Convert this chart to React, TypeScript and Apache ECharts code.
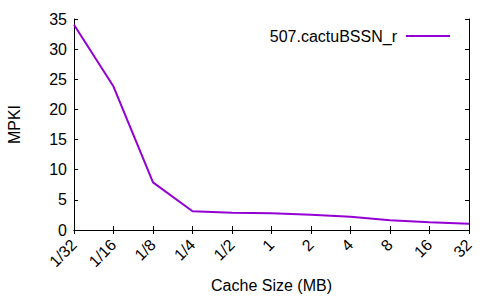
import React, { useEffect, useRef } from "react";
import * as echarts from "echarts";

const categories = ["1/32", "1/16", "1/8", "1/4", "1/2", "1", "2", "4", "8", "16", "32"];
const mpki = [34.05, 23.8, 7.9, 3.1, 2.85, 2.78, 2.55, 2.2, 1.6, 1.28, 1.05];
const seriesName = "507.cactuBSSN_r";
const yMin = 0;
const yMax = 35;
const yStep = 5;

const FONT = "'Liberation Sans', Arial, sans-serif";
const COLOR = "#9400D3";

export default function App() {
  const ref = useRef<HTMLDivElement>(null);
  useEffect(() => {
    if (!ref.current) return;
    const chart = echarts.init(ref.current, undefined, { renderer: "svg" });
    const axisLine = { show: true, lineStyle: { color: "#000", width: 1 } };
    const tick = { show: true, inside: true, length: 4, lineStyle: { color: "#000" } };
    chart.setOption({
      animation: false,
      backgroundColor: "#fff",
      textStyle: { fontFamily: FONT },
      grid: { left: 74, right: 31, top: 19, bottom: 70, containLabel: false, outerBoundsMode: "none" },
      legend: {
        show: true,
        right: 45,
        top: 23,
        icon: "rect",
        itemWidth: 44,
        itemHeight: 2,
        align: "right",
        itemGap: 10,
        textStyle: { fontFamily: FONT, fontSize: 16, color: "#000", padding: [0, 4, 0, 0] },
        data: [{ name: seriesName }],
      },
      xAxis: [
        {
          type: "category",
          data: categories,
          boundaryGap: false,
          position: "bottom",
          axisLine,
          axisTick: { ...tick, alignWithLabel: true },
          axisLabel: {
            rotate: 45,
            fontFamily: FONT,
            fontSize: 16,
            color: "#000",
            margin: 12,
            interval: 0,
          },
          splitLine: { show: false },
          name: "Cache Size (MB)",
          nameLocation: "middle",
          nameGap: 47,
          nameTextStyle: { fontFamily: FONT, fontSize: 16, color: "#000" },
        },
        {
          type: "category",
          data: categories,
          boundaryGap: false,
          position: "top",
          axisLine,
          axisTick: tick,
          axisLabel: { show: false },
          splitLine: { show: false },
        },
      ],
      yAxis: [
        {
          type: "value",
          min: yMin,
          max: yMax,
          interval: yStep,
          position: "left",
          axisLine,
          axisTick: tick,
          axisLabel: { fontFamily: FONT, fontSize: 16, color: "#000", margin: 7 },
          splitLine: { show: false },
          name: "MPKI",
          nameLocation: "middle",
          nameGap: 52,
          nameRotate: 90,
          nameTextStyle: { fontFamily: FONT, fontSize: 16, color: "#000" },
        },
        {
          type: "value",
          min: yMin,
          max: yMax,
          interval: yStep,
          position: "right",
          axisLine,
          axisTick: tick,
          axisLabel: { show: false },
          splitLine: { show: false },
        },
      ],
      series: [
        {
          name: seriesName,
          type: "line",
          data: mpki,
          showSymbol: false,
          symbol: "none",
          lineStyle: { color: COLOR, width: 2 },
          itemStyle: { color: COLOR },
          xAxisIndex: 0,
          yAxisIndex: 0,
        },
      ],
    });
    return () => chart.dispose();
  }, []);
  return <div ref={ref} style={{ width: 500, height: 300, position: "absolute", left: 0, top: 0 }} />;
}
